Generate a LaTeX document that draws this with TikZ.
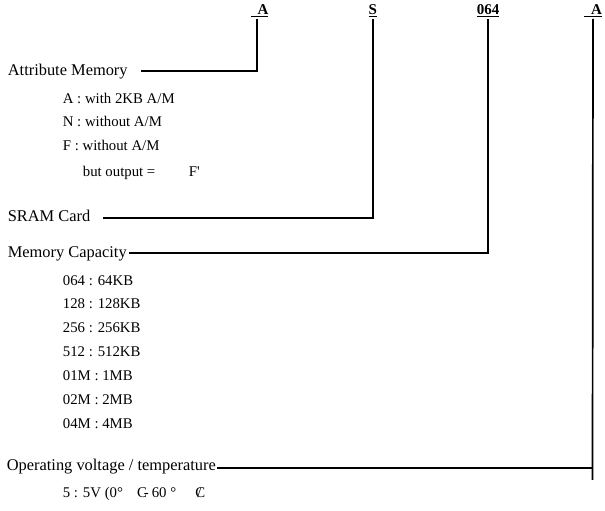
\documentclass[tikz,border=0pt]{standalone}
\usepackage{fontspec}
\setmainfont{Liberation Serif}
\usetikzlibrary{calc}
\tikzset{
  every picture/.style={line width=1.7pt, line cap=rect},
  code/.style={font=\fontsize{15}{18}\selectfont\bfseries, inner sep=2pt, anchor=base},
  field/.style={font=\fontsize{16.4}{19}\selectfont, inner sep=0pt, anchor=base west},
  option/.style={font=\fontsize{14.8}{17}\selectfont, inner sep=0pt, anchor=base west},
}

\begin{document}
\begin{tikzpicture}[x=1pt, y=-1pt]
  \useasboundingbox (0,0) rectangle (605,511);
  % part number codes
  \node[code] (codeA) at (259.5,15) {\underline{\hspace{7pt}A}};
  \node[code] (codeS) at (372.7,15) {\underline{S}};
  \node[code] (codeCap) at (488,15) {\underline{064}};
  \node[code] (codeV) at (593,15) {\underline{\hspace{7pt}A}};
  % fields
  \node[field] (attr) at (7,75) {Attribute Memory};
  \node[field] (sram) at (7,221.7) {SRAM Card};
  \node[field] (cap) at (7,257.5) {Memory Capacity};
  \node[field] (volt) at (6,470) {Operating voltage / temperature};
  % attribute memory options
  \node[option] (optA) at (62,103.3) {A : with 2KB A/M};
  \node[option] (optN) at (62,126.7) {N : without A/M};
  \node[option] (optF) at (62,150.7) {F : without A/M};
  \node[option] (optOut) at (82,176.7) {but output =};
  \node[option] (optFp) at (188,176.7) {F\textquotesingle};
  % capacity options
  \foreach \code/\size [count=\i] in {064/64KB, 128/128KB, 256/256KB, 512/512KB, 01M/1MB, 02M/2MB, 04M/4MB}
    \node[option] (capOpt\i) at (62,261.1+23.9*\i) {\code\ : \size};
  \node[option] (volt5) at (62,497) {5 : 5V (0°\hspace{14pt}C\kern-3pt-\hspace{3pt}60 °\hspace{19pt}\rlap{C}\kern2pt/};
  % connectors
  \coordinate (attrTail) at (142,70.7);
  \coordinate (sramTail) at (104,218.3);
  \coordinate (capTail) at (130,252.7);
  \coordinate (voltTail) at (218,468);
  \coordinate (voltEnd) at (592.5,479);
  \draw ([xshift=-2.8pt]codeA.south) |- (attrTail);
  \draw (codeS.south) |- (sramTail);
  \draw (codeCap.south) |- (capTail);
  \draw (codeV.south) -- (voltEnd);
  \draw (voltTail) -- (voltTail -| voltEnd);
\end{tikzpicture}
\end{document}
